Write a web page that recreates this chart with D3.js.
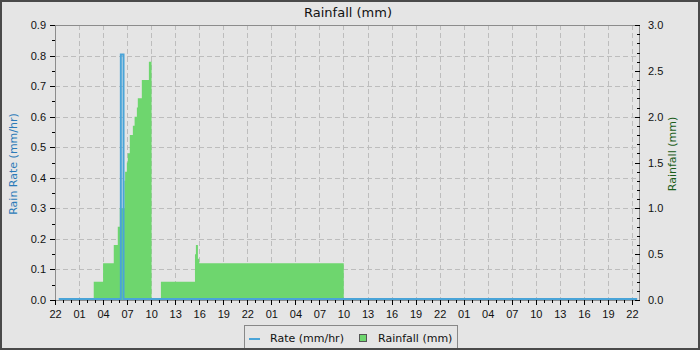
<!DOCTYPE html>
<meta charset="utf-8">
<head>
  <style>
    body { margin: 0; background: #e5e5e5; }
    svg { display: block; font-family: "DejaVu Sans", sans-serif; }
    .axis text { font-size: 11px; fill: #111; }
    .axis path { stroke: none; }
    .axis line { stroke: #000; shape-rendering: crispEdges; }
    .grid line { stroke: #bdbdbd; stroke-dasharray: 5,3; shape-rendering: crispEdges; }
  </style>
</head>
<body>
  <script src="https://d3js.org/d3.v7.min.js"></script>
  <script>
    // rainfall (mm) steps, right axis
    var rainTimes = ["2024-01-01T22:28", "2024-01-02T02:50", "2024-01-02T04:00", "2024-01-02T05:20",
      "2024-01-02T05:50", "2024-01-02T06:05", "2024-01-02T06:40", "2024-01-02T06:45", "2024-01-02T06:58",
      "2024-01-02T07:05", "2024-01-02T07:20", "2024-01-02T07:43", "2024-01-02T07:56", "2024-01-02T08:13",
      "2024-01-02T08:20", "2024-01-02T08:50", "2024-01-02T09:43", "2024-01-02T10:03", "2024-01-02T11:13",
      "2024-01-02T15:28", "2024-01-02T15:35", "2024-01-02T15:50", "2024-01-02T16:00", "2024-01-03T10:02",
      "2024-01-04T22:39"];
    var rainValues = [0, 0.2, 0.4, 0.6, 0.8, 1.0, 1.3, 1.4, 1.5, 1.6, 1.8, 1.9, 2.0, 2.1, 2.2, 2.4, 2.6, 0,
      0.2, 0.5, 0.6, 0.45, 0.4, 0, 0];

    // rain rate (mm/hr), left axis
    var rateTimes = ["2024-01-01T22:28", "2024-01-02T06:13", "2024-01-02T06:33", "2024-01-04T22:39"];
    var rateValues = [0, 0.8, 0, 0];

    var rateTicks = [0, 0.1, 0.2, 0.3, 0.4, 0.5, 0.6, 0.7, 0.8, 0.9];
    var rainTicks = [0, 0.5, 1.0, 1.5, 2.0, 2.5, 3.0];

    var W = 700, H = 350;
    var pL = 55, pR = 640, pT = 25, pB = 300;
    var start = new Date("2024-01-01T22:00"), end = new Date("2024-01-04T23:00");

    var svg = d3.select("body").append("svg")
      .attr("width", W)
      .attr("height", H);

    svg.append("rect")
      .attr("x", 1).attr("y", 1)
      .attr("width", W - 2).attr("height", H - 2)
      .attr("fill", "#e5e5e5")
      .attr("stroke", "#4a4a4a")
      .attr("stroke-width", 2);

    var x = d3.scaleTime().domain([start, end]).range([pL, pR]);
    var yRate = d3.scaleLinear().domain([0, 0.9]).range([pB, pT]);
    var yRain = d3.scaleLinear().domain([0, 3]).range([pB, pT]);

    var hour = 3600 * 1000;
    var majorX = d3.range(0, 25).map(function (i) { return new Date(+start + i * 3 * hour); });
    var minorX = d3.range(0, 73).map(function (i) { return new Date(+start + i * hour); });

    // grid
    var grid = svg.append("g").attr("class", "grid");
    grid.selectAll(".v").data(majorX.slice(1))
      .enter().append("line")
      .attr("x1", function (d) { return Math.round(x(d)) + 0.5; })
      .attr("x2", function (d) { return Math.round(x(d)) + 0.5; })
      .attr("y1", pT).attr("y2", pB);
    grid.selectAll(".h").data(rateTicks.slice(1, -1))
      .enter().append("line")
      .attr("x1", pL).attr("x2", pR)
      .attr("y1", function (d) { return Math.round(yRate(d)) + 0.5; })
      .attr("y2", function (d) { return Math.round(yRate(d)) + 0.5; });

    // rainfall area
    var rain = rainTimes.map(function (t, i) { return { t: new Date(t), v: rainValues[i] }; });
    svg.append("path")
      .datum(rain)
      .attr("fill", "#6ed66e")
      .attr("d", d3.area()
        .curve(d3.curveStepAfter)
        .x(function (d) { return x(d.t); })
        .y0(yRain(0))
        .y1(function (d) { return yRain(d.v); }));

    // frame
    svg.append("rect")
      .attr("x", pL + 0.5).attr("y", pT + 0.5)
      .attr("width", pR - pL - 1).attr("height", pB - pT)
      .attr("fill", "none")
      .attr("stroke", "#8c8c8c");

    // rate line
    var rate = rateTimes.map(function (t, i) { return { t: new Date(t), v: rateValues[i] }; });
    svg.append("path")
      .datum(rate)
      .attr("fill", "none")
      .attr("stroke", "#4aa4d8")
      .attr("stroke-width", 2)
      .attr("d", d3.line()
        .curve(d3.curveStepAfter)
        .x(function (d) { return x(d.t); })
        .y(function (d) { return yRate(d.v) - 1; }));

    // x axis
    svg.append("g")
      .attr("class", "axis")
      .attr("transform", "translate(0," + pB + ")")
      .call(d3.axisBottom(x).tickValues(minorX).tickSize(3).tickFormat(""));
    svg.append("g")
      .attr("class", "axis")
      .attr("transform", "translate(0," + pB + ")")
      .call(d3.axisBottom(x).tickValues(majorX).tickSize(5).tickPadding(5)
        .tickFormat(d3.timeFormat("%H")));

    // left axis
    svg.append("g")
      .attr("class", "axis")
      .attr("transform", "translate(" + pL + ",0)")
      .call(d3.axisLeft(yRate).tickValues(d3.range(0, 19).map(function (i) { return i * 0.05; }))
        .tickSize(3).tickFormat(""));
    svg.append("g")
      .attr("class", "axis")
      .attr("transform", "translate(" + pL + ",0)")
      .call(d3.axisLeft(yRate).tickValues(rateTicks).tickSize(5).tickPadding(4)
        .tickFormat(d3.format(".1f")));

    // right axis
    svg.append("g")
      .attr("class", "axis")
      .attr("transform", "translate(" + pR + ",0)")
      .call(d3.axisRight(yRain).tickValues(d3.range(0, 31).map(function (i) { return i * 0.1; }))
        .tickSize(-3).tickFormat(""));
    svg.append("g")
      .attr("class", "axis")
      .attr("transform", "translate(" + pR + ",0)")
      .call(d3.axisRight(yRain).tickValues(rainTicks).tickSize(-5).tickPadding(8)
        .tickFormat(d3.format(".1f")));

    // title and axis labels
    svg.append("text")
      .attr("x", 348).attr("y", 17)
      .attr("text-anchor", "middle")
      .style("font-size", "13px")
      .attr("fill", "#111")
      .text("Rainfall (mm)");

    svg.append("text")
      .attr("transform", "translate(17,164) rotate(-90)")
      .attr("text-anchor", "middle")
      .style("font-size", "11px")
      .attr("fill", "#2a7ab8")
      .text("Rain Rate (mm/hr)");

    svg.append("text")
      .attr("transform", "translate(676,154) rotate(-90)")
      .attr("text-anchor", "middle")
      .style("font-size", "11px")
      .attr("fill", "#1b5e1b")
      .text("Rainfall (mm)");

    // legend
    var legend = svg.append("g");
    legend.append("rect")
      .attr("x", 244.5).attr("y", 325.5)
      .attr("width", 213).attr("height", 30)
      .attr("fill", "#e5e5e5")
      .attr("stroke", "#888");
    legend.append("line")
      .attr("x1", 249).attr("x2", 260)
      .attr("y1", 339).attr("y2", 339)
      .attr("stroke", "#4aa4d8").attr("stroke-width", 2);
    legend.append("text")
      .attr("x", 270).attr("y", 342)
      .style("font-size", "11px").attr("fill", "#111")
      .text("Rate (mm/hr)");
    legend.append("rect")
      .attr("x", 359.5).attr("y", 334.5)
      .attr("width", 7).attr("height", 7)
      .attr("fill", "#6ed66e").attr("stroke", "#555");
    legend.append("text")
      .attr("x", 378).attr("y", 342)
      .style("font-size", "11px").attr("fill", "#111")
      .text("Rainfall (mm)");

    // redraw outer border over legend
    svg.append("rect")
      .attr("x", 1).attr("y", 1)
      .attr("width", W - 2).attr("height", H - 2)
      .attr("fill", "none")
      .attr("stroke", "#4a4a4a")
      .attr("stroke-width", 2);
  </script>
</body>
